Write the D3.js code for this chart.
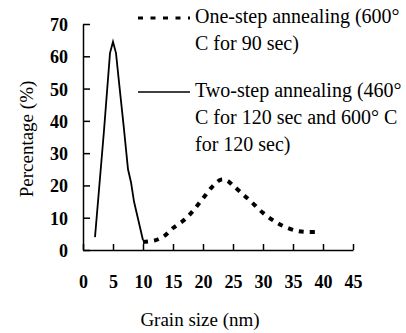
<!DOCTYPE html>
<html>
<head>
<meta charset="utf-8">
<script src="https://cdn.jsdelivr.net/npm/d3@7"></script>
<style>
  body { margin: 0; background: #fff; }
</style>
</head>
<body>
<div id="chart"></div>
<script>
// grain size distribution (x = nm, y = %)
const oneStepX = [10, 12, 13.5, 15, 17, 18.5, 20, 21.5, 23, 24, 25, 26.5, 28, 30, 32, 33.5, 35.5, 37, 39];
const oneStepY = [2.5, 3, 4.3, 6.8, 9.5, 12.5, 16, 19.5, 21.8, 21.5, 20, 17.5, 15, 11.5, 8.8, 7.3, 6, 5.6, 5.6];
const twoStepX = [2, 3.5, 4.5, 5, 5.5, 6, 6.8, 7.5, 8, 8.5, 10];
const twoStepY = [4, 37, 61, 64.5, 61, 52, 38, 25, 21, 15, 3];
const xTicks = [0, 5, 10, 15, 20, 25, 30, 35, 40, 45];
const yTicks = [0, 10, 20, 30, 40, 50, 60, 70];
const legendOne = ['One-step annealing (600°', 'C for 90 sec)'];
const legendTwo = ['Two-step annealing (460°', 'C for 120 sec and 600° C', 'for 120 sec)'];

const FONT = '"Liberation Serif", "Times New Roman", Times, serif';
const W = 406, H = 333;
const margin = { top: 24, right: 53, bottom: 83, left: 83 };
const width = W - margin.left - margin.right;
const height = H - margin.top - margin.bottom;

const svg = d3.select('#chart').append('svg')
  .attr('width', W)
  .attr('height', H)
  .attr('font-family', FONT)
  .style('display', 'block');

const g = svg.append('g')
  .attr('transform', 'translate(' + margin.left + ',' + margin.top + ')');

const x = d3.scaleLinear().domain([0, 45]).range([0, width]);
const y = d3.scaleLinear().domain([0, 70]).range([height, 0]);

// axes, ticks point inward
const xAxisG = g.append('g')
  .attr('class', 'x axis')
  .attr('transform', 'translate(0,' + height + ')')
  .call(d3.axisBottom(x).tickValues(xTicks).tickSizeInner(-6).tickSizeOuter(0).tickPadding(25));

const yAxisG = g.append('g')
  .attr('class', 'y axis')
  .call(d3.axisLeft(y).tickValues(yTicks).tickSizeInner(-7).tickSizeOuter(0).tickPadding(15));

[xAxisG, yAxisG].forEach(a => {
  a.attr('font-family', FONT).attr('font-size', 18).attr('font-weight', 'bold');
  a.selectAll('path, line').attr('stroke', '#000').attr('stroke-width', 1.5);
  a.selectAll('text').attr('fill', '#000');
});
yAxisG.selectAll('text').attr('dy', '0.36em');

// lines
const line = d3.line()
  .x(d => x(d[0]))
  .y(d => y(d[1]));

const oneStep = oneStepX.map((v, i) => [v, oneStepY[i]]);
const twoStep = twoStepX.map((v, i) => [v, twoStepY[i]]);

g.append('path')
  .datum(oneStep)
  .attr('fill', 'none')
  .attr('stroke', '#000')
  .attr('stroke-width', 4)
  .attr('stroke-dasharray', '5,6')
  .attr('d', line.curve(d3.curveCatmullRom));

g.append('path')
  .datum(twoStep)
  .attr('fill', 'none')
  .attr('stroke', '#000')
  .attr('stroke-width', 1.8)
  .attr('d', line.curve(d3.curveLinear));

// axis titles
svg.append('text')
  .attr('x', margin.left + width / 2 - 18)
  .attr('y', 326)
  .attr('text-anchor', 'middle')
  .attr('font-size', 19)
  .text('Grain size (nm)');

svg.append('text')
  .attr('transform', 'translate(33,' + 139 + ') rotate(-90)')
  .attr('text-anchor', 'middle')
  .attr('font-size', 19)
  .text('Percentage (%)');

// legend
const lineH = 27;
const legend = svg.append('g').attr('class', 'legend');

legend.append('line')
  .attr('x1', 138).attr('x2', 190)
  .attr('y1', 18).attr('y2', 18)
  .attr('stroke', '#000')
  .attr('stroke-width', 3)
  .attr('stroke-dasharray', '5,7.5');

legend.selectAll('.l1')
  .data(legendOne)
  .enter().append('text')
  .attr('class', 'l1')
  .attr('x', 195)
  .attr('y', (d, i) => 23 + i * lineH)
  .attr('font-size', 20)
  .text(d => d);

legend.append('line')
  .attr('x1', 138).attr('x2', 190)
  .attr('y1', 92).attr('y2', 92)
  .attr('stroke', '#000')
  .attr('stroke-width', 1.5);

legend.selectAll('.l2')
  .data(legendTwo)
  .enter().append('text')
  .attr('class', 'l2')
  .attr('x', 195)
  .attr('y', (d, i) => 97 + i * lineH)
  .attr('font-size', 20)
  .text(d => d);
</script>
</body>
</html>
